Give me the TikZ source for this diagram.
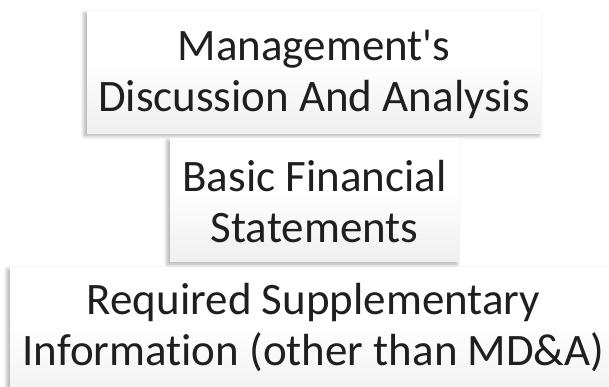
\documentclass[tikz,border=0pt]{standalone}
\usepackage{fontspec}
\setmainfont{Carlito}[Ligatures={TeXOff,CommonOff}]
\usetikzlibrary{shadows.blur}

\pgfdeclareverticalshading{boxfade}{100bp}{color(0bp)=(black!14); color(25bp)=(black!6); color(55bp)=(white); color(100bp)=(white)}

\tikzset{
    stage/.style={shading=boxfade, draw=none, inner sep=0pt,
        blur shadow={shadow xshift=-2.5pt, shadow yshift=-2.5pt, shadow blur radius=4pt, shadow blur steps=8, shadow opacity=35}},
    caption/.style={align=center, font=\fontsize{45}{51}\selectfont, text=black!88, inner sep=0pt}
}

\begin{document}
\begin{tikzpicture}[x=1pt, y=-1pt]
        \useasboundingbox (0,0) rectangle (609,386);

        \node[stage, minimum width=454pt, minimum height=122pt] (mdabox) at (314,72) {};
        \node[caption] (mda) at (314,74) {Management's\\Discussion And Analysis};

        \node[stage, minimum width=289pt, minimum height=123pt] (bfsbox) at (314.5,200) {};
        \node[caption] (bfs) at (314.5,202) {Basic Financial\\Statements};

        \node[stage, minimum width=612pt, minimum height=136pt] (rsibox) at (316,335) {};
        \node[caption] (rsi) at (313.5,327) {Required Supplementary\\Information (other than MD\&A)};

    \end{tikzpicture}
\end{document}
